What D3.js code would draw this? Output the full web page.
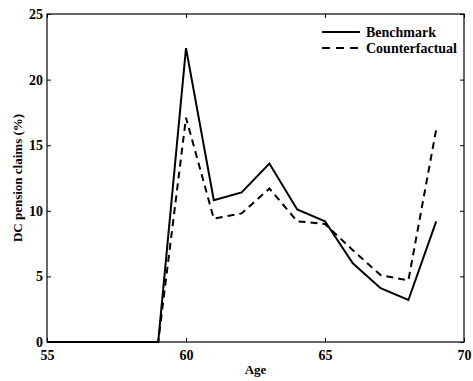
<!DOCTYPE html>
<html>
<head>
<meta charset="utf-8">
<script src="https://cdn.jsdelivr.net/npm/d3@7"></script>
<style>
  body { margin: 0; background: #fff; }
</style>
</head>
<body>
<svg id="chart"></svg>
<script>
const ages = [55, 56, 57, 58, 59, 60, 61, 62, 63, 64, 65, 66, 67, 68, 69];
const benchmark = [0, 0, 0, 0, 0, 22.4, 10.8, 11.4, 13.6, 10.1, 9.2, 6.0, 4.1, 3.2, 9.2];
const counterfactual = [0, 0, 0, 0, 0, 17.1, 9.4, 9.8, 11.7, 9.2, 9.0, 7.0, 5.1, 4.7, 16.2];
const xTicks = [55, 60, 65, 70];
const yTicks = [0, 5, 10, 15, 20, 25];

const W = 473, H = 381;
const margin = { top: 14, right: 9, bottom: 39, left: 47 };
const width = W - margin.left - margin.right;
const height = H - margin.top - margin.bottom;
const FONT = '"Liberation Serif", "Times New Roman", serif';

const svg = d3.select('#chart').attr('width', W).attr('height', H)
  .attr('font-family', FONT).attr('font-weight', 'bold');
const g = svg.append('g').attr('transform', `translate(${margin.left},${margin.top})`);

const x = d3.scaleLinear().domain([55, 70]).range([0, width]);
const y = d3.scaleLinear().domain([0, 25]).range([height, 0]);

// inward ticks, mirrored on top and right
const tickLen = 4;
const styleAxis = sel => {
  sel.attr('font-family', FONT).attr('font-weight', 'bold');
  sel.select('.domain').remove();
  sel.selectAll('line').attr('stroke', '#000').attr('stroke-width', 1);
  sel.selectAll('text').attr('font-size', 14).attr('fill', '#000');
};
g.append('g').attr('transform', `translate(0,${height})`)
  .call(d3.axisBottom(x).tickValues(xTicks).tickSize(-tickLen).tickPadding(8).tickFormat(d3.format('d')))
  .call(styleAxis);
g.append('g')
  .call(d3.axisLeft(y).tickValues(yTicks).tickSize(-tickLen).tickPadding(4))
  .call(styleAxis);
g.append('g')
  .call(d3.axisTop(x).tickValues(xTicks).tickSize(-tickLen).tickFormat(''))
  .call(styleAxis);
g.append('g').attr('transform', `translate(${width},0)`)
  .call(d3.axisRight(y).tickValues(yTicks).tickSize(-tickLen).tickFormat(''))
  .call(styleAxis);

g.append('rect').attr('width', width).attr('height', height)
  .attr('fill', 'none').attr('stroke', '#000').attr('stroke-width', 1.2);

const line = d3.line().x((d, i) => x(ages[i])).y(d => y(d));

g.append('path').datum(benchmark).attr('d', line)
  .attr('fill', 'none').attr('stroke', '#000').attr('stroke-width', 2);
g.append('path').datum(counterfactual).attr('d', line)
  .attr('fill', 'none').attr('stroke', '#000').attr('stroke-width', 2)
  .attr('stroke-dasharray', '7,5');

// legend
const legend = [
  { name: 'Benchmark', dash: null },
  { name: 'Counterfactual', dash: '8,6' }
];
const lg = g.append('g').attr('transform', `translate(${322 - margin.left},${32 - margin.top})`);
legend.forEach((d, i) => {
  const row = lg.append('g').attr('transform', `translate(0,${i * 16})`);
  row.append('line').attr('x1', 0).attr('x2', 38).attr('y1', 0).attr('y2', 0)
    .attr('stroke', '#000').attr('stroke-width', 2).attr('stroke-dasharray', d.dash);
  row.append('text').attr('x', 44).attr('y', 0).attr('dy', '0.35em')
    .attr('font-size', 14).text(d.name);
});

// axis labels
g.append('text').attr('x', width / 2).attr('y', height + 32)
  .attr('text-anchor', 'middle').attr('font-size', 13).text('Age');
g.append('text')
  .attr('transform', `translate(${-25},${height / 2}) rotate(-90)`)
  .attr('text-anchor', 'middle').attr('font-size', 13).text('DC pension claims (%)');
</script>
</body>
</html>
